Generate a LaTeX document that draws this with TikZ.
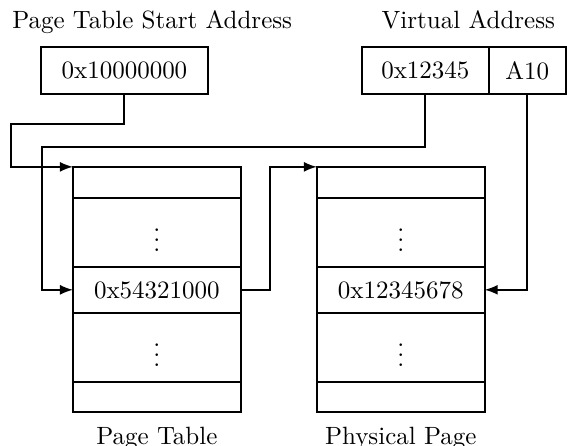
\documentclass[tikz,border=0pt]{standalone}
\usepackage{amssymb, amsmath}
\usetikzlibrary{arrows, positioning}

\begin{document}
\begin{tikzpicture}[x=1cm, y=1cm, >=latex, thick,
				box/.style={draw, minimum height=0.66cm, inner sep=0pt, outer sep=0pt},
				cell/.style={draw, minimum width=2.36cm, minimum height=#1, inner sep=0pt, outer sep=0pt}]
				\useasboundingbox (0,0) rectangle (7.975,6.27);
				% Ueberschriften
				\node[anchor=base] (starttitle) at (2.14,5.863) {Page Table Start Address};
				\node[anchor=base] (vatitle) at (6.587,5.863) {Virtual Address};
				% Register oben
				\node[box, minimum width=2.35cm] (start) at (1.75,5.28) {0x10000000};
				\node[box, minimum width=1.785cm] (vpn) at (5.983,5.28) {0x12345};
				\node[box, minimum width=1.083cm, right=0pt of vpn] (off) {A10};
				% Tabellen zeichnen
				\foreach \col/\x/\val/\cap in {pt/1.026/0x54321000/Page Table, pp/4.457/0x12345678/Physical Page}
				{
					\node[cell=0.436cm, anchor=north west] (\col1) at (\x,3.923) {};
					\node[cell=0.97cm, below=0pt of \col1] (\col2) {$\vdots$};
					\node[cell=0.647cm, below=0pt of \col2] (\col3) {\val};
					\node[cell=0.97cm, below=0pt of \col3] (\col4) {$\vdots$};
					\node[cell=0.42cm, below=0pt of \col4] (\col5) {};
					\node[anchor=base] (\col label) at ([yshift=-0.464cm]\col5.south) {\cap};
				}
				% Pfeile
				\draw[->] (start.south) -- ++(0,-0.422) -| ([xshift=-0.871cm]pt1.north west) -- (pt1.north west);
				\draw[->] (vpn.south) -- ++(0,-0.745) -| ([xshift=-0.436cm]pt3.west) -- (pt3.west);
				\draw[->] (pt3.east) -- ++(0.408,0) |- (pp1.north west);
				\draw[->] (off.south) |- (pp3.east);
			\end{tikzpicture}
\end{document}
